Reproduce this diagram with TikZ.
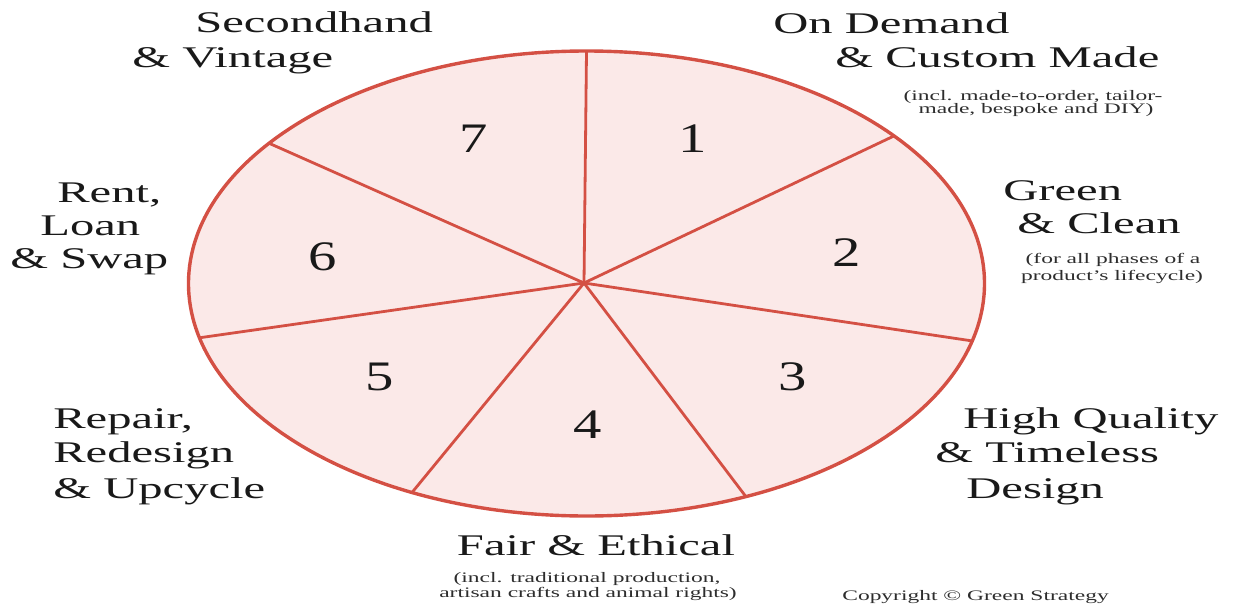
\documentclass[tikz,border=0pt]{standalone}
\usepackage{fontspec}
\setmainfont{Liberation Serif}
\definecolor{rim}{RGB}{212,80,68}
\definecolor{pie}{RGB}{251,233,232}
\definecolor{ink}{RGB}{25,25,25}
\definecolor{subink}{RGB}{45,45,45}
\tikzset{
  bigtxt/.style={inner sep=0pt, text=ink, xscale=1.62, font=\fontsize{30}{34}\selectfont},
  smalltxt/.style={inner sep=0pt, text=subink, xscale=1.62, font=\fontsize{14.5}{15}\selectfont},
  numtxt/.style={inner sep=0pt, text=ink, xscale=1.35, font=\fontsize{42}{44}\selectfont},
  spoke/.style={draw=rim, line width=2.8pt},
}
\begin{document}
\begin{tikzpicture}[x=1pt,y=-1pt]
\useasboundingbox (0,0) rectangle (1233,613);
% pie
\def\cx{586.5}\def\cy{283.5}\def\rx{398}\def\ry{232.5}
\filldraw[fill=pie, draw=rim, line width=3.4pt] (\cx,\cy) ellipse [x radius=\rx, y radius=\ry];
\coordinate (c) at (584,283);
\foreach \n/\t in {a/90, b/39.4, c2/-14.3, d/-66.4, e/-116, f/193.5, g/142.9}{
  \coordinate (\n) at ({\cx+\rx*cos(\t)},{\cy-\ry*sin(\t)});
}
\foreach \n in {a,b,c2,d,e,f,g}{ \draw[spoke] (c) -- (\n); }
% numbers
\node[numtxt] (n1) at (693,139) {1};
\node[numtxt] (n2) at (847,253) {2};
\node[numtxt] (n3) at (793,377) {3};
\node[numtxt] (n4) at (588,425) {4};
\node[numtxt] (n5) at (380,377) {5};
\node[numtxt] (n6) at (323,257) {6};
\node[numtxt] (n7) at (474,139) {7};
% labels
\node[bigtxt, anchor=base west] (l7a) at (195,32) {Secondhand};
\node[bigtxt, anchor=base west] (l7b) at (132,67) {\& Vintage};
\node[bigtxt, anchor=base west] (l1a) at (773,33) {On Demand};
\node[bigtxt, anchor=base west] (l1b) at (835,67) {\& Custom Made};
\node[smalltxt, anchor=base] (l1c) at (1033,100) {(incl. made-to-order, tailor-};
\node[smalltxt, anchor=base] (l1d) at (1036,113) {made, bespoke and DIY)};
\node[bigtxt, anchor=base west] (l2a) at (1003,200) {Green};
\node[bigtxt, anchor=base west] (l2b) at (1017,233) {\& Clean};
\node[smalltxt, anchor=base] (l2c) at (1113,263) {(for all phases of a};
\node[smalltxt, anchor=base] (l2d) at (1112,280) {product’s lifecycle)};
\node[bigtxt, anchor=base west] (l3a) at (963,428) {High Quality};
\node[bigtxt, anchor=base west] (l3b) at (935,462) {\& Timeless};
\node[bigtxt, anchor=base west] (l3c) at (966,498) {Design};
\node[bigtxt, anchor=base] (l4a) at (596,555) {Fair \& Ethical};
\node[smalltxt, anchor=base] (l4b) at (587,582) {(incl. traditional production,};
\node[smalltxt, anchor=base] (l4c) at (588,597) {artisan crafts and animal rights)};
\node[bigtxt, anchor=base west] (l5a) at (53,428) {Repair,};
\node[bigtxt, anchor=base west] (l5b) at (53,462) {Redesign};
\node[bigtxt, anchor=base west] (l5c) at (53,498) {\& Upcycle};
\node[bigtxt, anchor=base west] (l6a) at (57,202) {Rent,};
\node[bigtxt, anchor=base west] (l6b) at (40,235) {Loan};
\node[bigtxt, anchor=base west] (l6c) at (10,268) {\& Swap};
\node[smalltxt, anchor=base west] (cr) at (842,600) {Copyright © Green Strategy};
\end{tikzpicture}
\end{document}
